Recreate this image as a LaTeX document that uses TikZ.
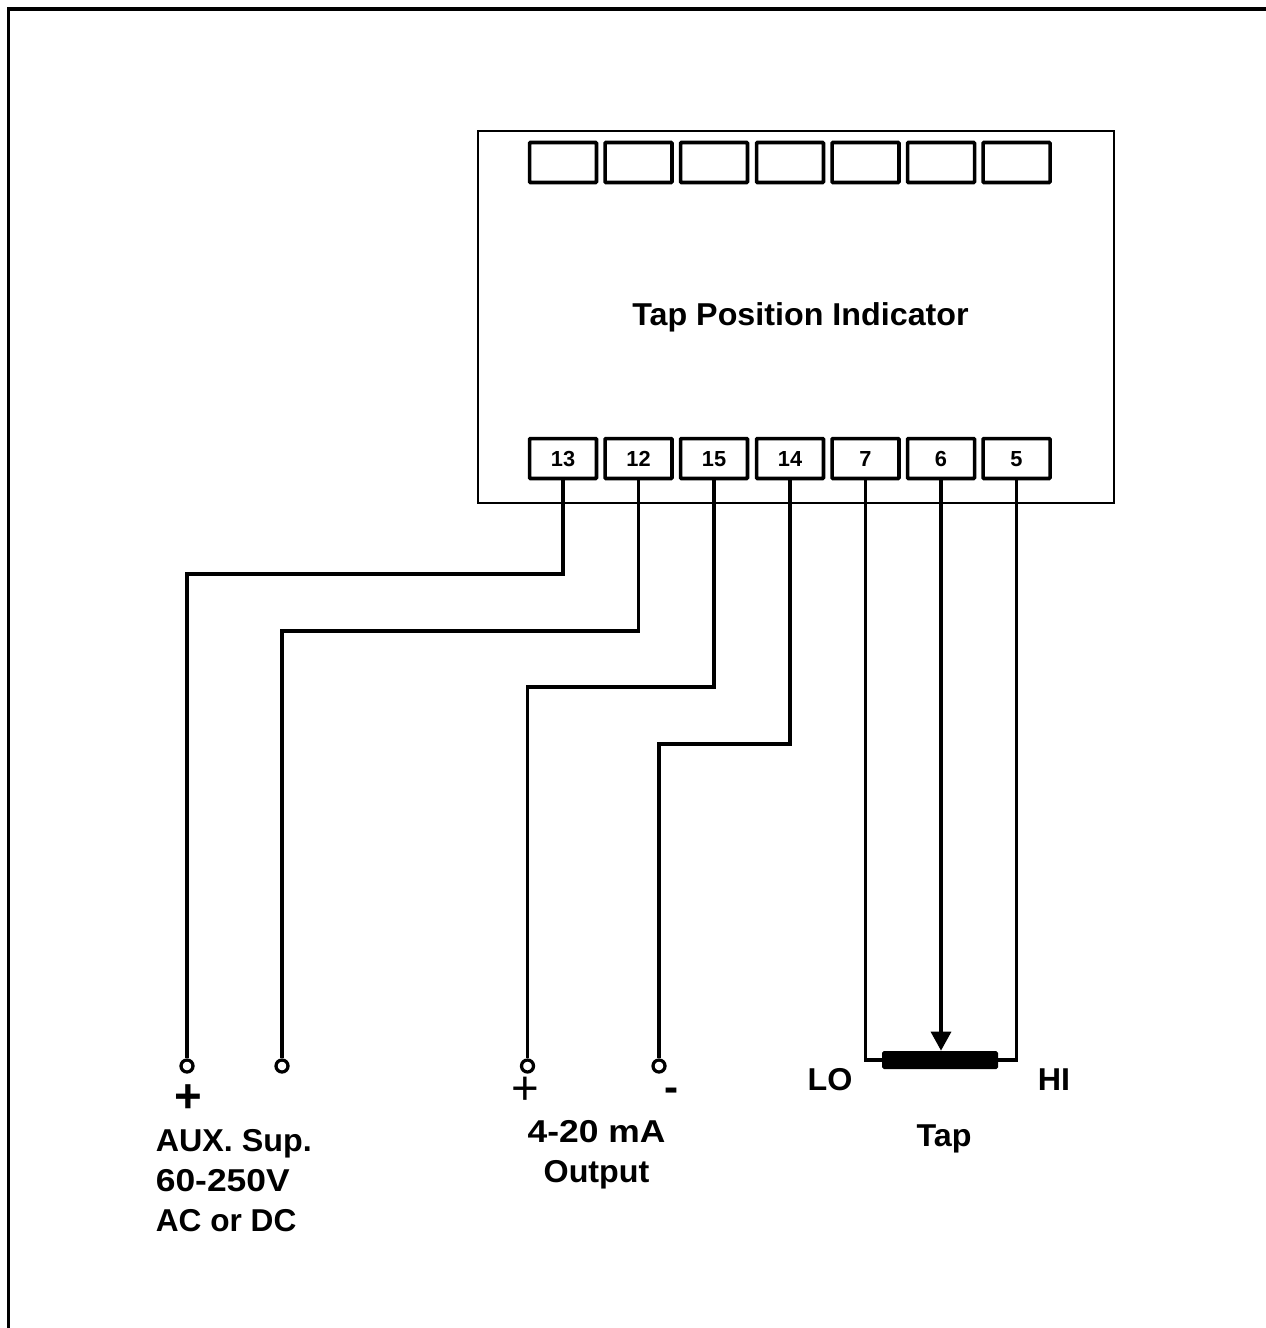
\documentclass[tikz,border=0pt]{standalone}
\usepackage{fontspec}
\setmainfont{Liberation Sans}
\newfontfamily\slightfont[FakeStretch=1.02]{Liberation Sans}
\newfontfamily\widefont[FakeStretch=1.12]{Liberation Sans}
\usetikzlibrary{arrows.meta}

\begin{document}
\begin{tikzpicture}[x=0.02cm, y=-0.02cm,
    term/.style={draw, line width=2pt, rounded corners=0.5pt, minimum width=1.34cm, minimum height=0.8cm, inner sep=0pt, text height=9pt, text depth=0pt, font=\fontsize{12.4}{14}\selectfont\bfseries},
    wire/.style={line width=1.85pt},
    post/.style={draw, circle, line width=1.85pt, minimum size=0.24cm, inner sep=0pt},
    lbl/.style={inner sep=0pt, font=\fontsize{18}{22.7}\selectfont\bfseries\slightfont}]

  \useasboundingbox (0,0) rectangle (1266,1328);

  % Outer frame, top and left only
  \draw[line width=2.2pt] (8.5,1328) |- (1266,9);

  % Indicator housing
  \node[draw, line width=1.1pt, minimum width=12.72cm, minimum height=7.44cm, inner sep=0pt] (housing) at (796,317) {};
  \node[lbl] (title) at (800.5,317) {Tap Position Indicator};

  % Display windows
  \foreach \x/\n in {563/a,638.5/b,714/c,790/d,865.5/e,941/f,1016.5/g}
    \node[term] (win\n) at (\x,162.5) {};

  % Terminals
  \foreach \x/\n in {563/13,638.5/12,714/15,790/14,865.5/7,941/6,1016.5/5}
    \node[term] (t\n) at (\x,458.5) {\n};

  % Field posts
  \node[post] (auxp) at (187,1066) {};
  \node[post] (auxn) at (282,1066) {};
  \node[post] (outp) at (527.5,1066) {};
  \node[post] (outn) at (659,1066) {};

  % Tap resistor
  \node[fill=black, rounded corners=1pt, minimum width=2.32cm, minimum height=0.36cm, inner sep=0pt] (bar) at (940,1060) {};

  % Wiring
  \draw[wire] (t13.south) |- (400,574) -| (auxp.north);
  \draw[wire] (t12.south) |- (400,631) -| (auxn.north);
  \draw[wire] (t15.south) |- (600,687) -| (outp.north);
  \draw[wire] (t14.south) |- (700,744) -| (outn.north);
  \draw[wire] (t7.south) |- (bar.west);
  \draw[wire] (t5.south) |- (bar.east);
  \draw[wire, -{Triangle[length=0.38cm, width=0.4cm]}] (t6.south) -- (bar.north -| t6);

  % Labels
  \node[lbl, font=\fontsize{27}{27}\selectfont\bfseries] (plusa) at (188.5,1099) {+};
  \node[lbl, font=\fontsize{27}{27}\selectfont] (plusb) at (525.5,1091) {+};
  \node[lbl, font=\fontsize{24}{24}\selectfont\bfseries] (minusb) at (672,1095) {-};
  \node[lbl, align=left, anchor=north west] (aux) at (155.5,1129) {AUX. Sup.\\{\widefont 60-250V}\\{\rmfamily AC or DC}};
  \node[lbl, align=center] (mA) at (596.5,1155) {{\widefont 4-20 mA}\\Output};
  \node[lbl] (lo) at (830,1080) {LO};
  \node[lbl] (hi) at (1054,1080) {HI};
  \node[lbl] (tap) at (944,1139) {Tap};
\end{tikzpicture}
\end{document}
